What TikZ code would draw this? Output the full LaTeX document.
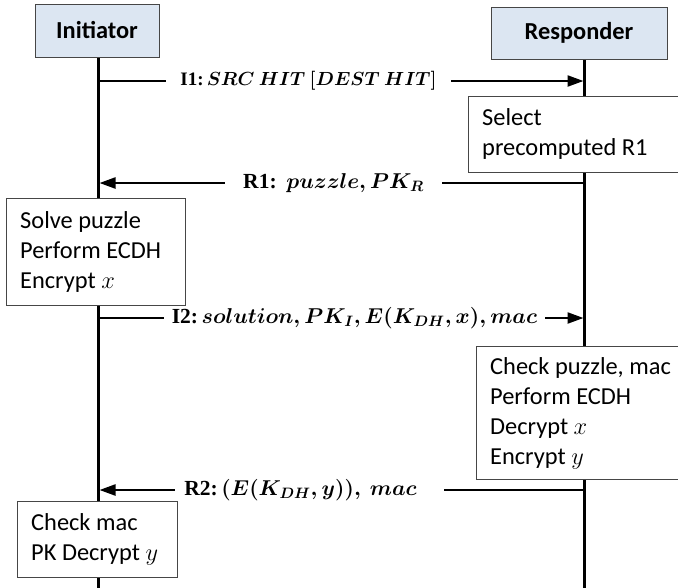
\RequirePackage{fix-cm}
\documentclass[tikz,border=0pt]{standalone}
\usepackage[no-math]{fontspec}
\setmainfont{Carlito}
\newfontfamily\lblserif{Liberation Serif}
\usetikzlibrary{arrows.meta}
\definecolor{hdrfill}{RGB}{220,230,242}
\definecolor{boxline}{RGB}{70,70,70}
\newcommand\lblsz[1]{\fontsize{#1}{26}\selectfont\boldmath}
\begin{document}
\begin{tikzpicture}[x=1pt,y=-1pt,
  hdr/.style={draw=boxline, fill=hdrfill, line width=1pt, font=\bfseries\fontsize{24.4}{28}\selectfont, inner sep=0pt},
  pbox/.style={draw=boxline, fill=white, line width=0.9pt, inner sep=0pt},
  ptext/.style={align=left, inner sep=0pt, font=\fontsize{24.4}{30}\selectfont},
  life/.style={line width=2.3pt},
  msg/.style={line width=2.3pt, shorten >=1pt, -{Triangle[length=16pt,width=11pt]}},
  lbl/.style={fill=white, inner xsep=0pt, inner ysep=2pt}
]
\useasboundingbox (0,0) rectangle (678,587);
% lifelines
\coordinate (itop) at (98.5,57);
\coordinate (ibot) at (98.5,590);
\coordinate (rtop) at (584.5,59);
\coordinate (rbot) at (584.5,590);
\draw[life] (itop) -- (ibot);
\draw[life] (rtop) -- (rbot);
% headers
\node[hdr, minimum width=124, minimum height=53] (init) at (97,30.5) {Initiator};
\node[hdr, minimum width=176, minimum height=52] (resp) at (579,33) {Responder};
% messages
\coordinate (i1a) at (98.5,81);
\coordinate (i1b) at (584.5,81);
\draw[msg] (i1a) -- (i1b);
\node[lbl, font=\lblsz{19}, minimum width=285] (i1l) at (308.5,81) {{\lblserif\bfseries I1:}\,$SRC\ HIT\ [DEST\ HIT]$};
\coordinate (r1a) at (584.5,183);
\coordinate (r1b) at (98.5,183);
\draw[msg] (r1a) -- (r1b);
\node[lbl, font=\lblsz{21.5}, minimum width=217] (r1l) at (333.5,183) {{\lblserif\bfseries R1:}\ \ $puzzle, PK_R$};
\coordinate (i2a) at (98.5,318);
\coordinate (i2b) at (584.5,318);
\draw[msg] (i2a) -- (i2b);
\node[lbl, font=\lblsz{21.5}, minimum width=381] (i2l) at (354.5,318) {{\lblserif\bfseries I2:}\,$solution, PK_I, E(K_{DH}, x), mac$};
\coordinate (r2a) at (584.5,490);
\coordinate (r2b) at (98.5,490);
\draw[msg] (r2a) -- (r2b);
\node[lbl, font=\lblsz{21.5}, minimum width=269] (r2l) at (309.5,490) {{\lblserif\bfseries R2:}\,$(E(K_{DH}, y)),\ mac$\hspace*{18pt}};
% boxes
\node[pbox, minimum width=230, minimum height=76, anchor=north west] (sel) at (468,96) {};
\node[ptext, anchor=west] (selt) at ([xshift=14pt]sel.west) {Select\\precomputed R1};
\node[pbox, minimum width=179, minimum height=107, anchor=north west] (solve) at (6,198) {};
\node[ptext, anchor=west] (solvet) at ([xshift=14pt]solve.west) {Solve puzzle\\Perform ECDH\\Encrypt $x$};
\node[pbox, minimum width=230, minimum height=133, anchor=north west] (chk) at (476,346) {};
\node[ptext, anchor=west] (chkt) at ([xshift=14pt]chk.west) {Check puzzle, mac\\Perform ECDH\\Decrypt $x$\\Encrypt $y$};
\node[pbox, minimum width=160, minimum height=76, anchor=north west] (chkm) at (17,501) {};
\node[ptext, anchor=west] (chkmt) at ([xshift=14pt]chkm.west) {Check mac\\PK Decrypt $y$};
\end{tikzpicture}
\end{document}
